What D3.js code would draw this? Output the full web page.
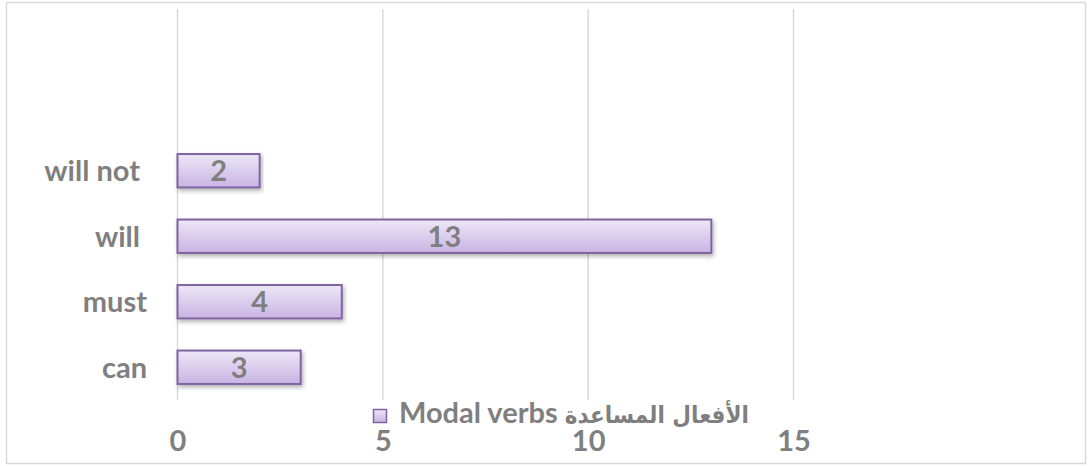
<!DOCTYPE html>
<html>
<head>
<meta charset="utf-8">
<script src="https://cdn.jsdelivr.net/npm/d3@7"></script>
<style>
  body { margin: 0; background: #fff; }
  text { font-family: Lato, "DejaVu Sans", sans-serif; font-weight: bold; fill: #7f7f7f; }
</style>
</head>
<body>
<div id="chart"></div>
<script>
'use strict';

// chart data
var categories = ['will not ', 'will ', 'must', 'can'];
var values = [2, 13, 4, 3];
var xTicks = [0, 5, 10, 15];
var seriesLatin = 'Modal verbs ';
var seriesArabic = 'الأفعال المساعدة';

var width = 1088,
    height = 466;

var svg = d3.select('#chart')
    .append('svg')
    .attr('width', width)
    .attr('height', height);

// outer frame
svg.append('rect')
    .attr('x', 6.5).attr('y', 2.5)
    .attr('width', 1079).attr('height', 461)
    .attr('fill', '#fff')
    .attr('stroke', '#d9d9d9')
    .attr('stroke-width', 1.5);

var defs = svg.append('defs');
var grad = defs.append('linearGradient')
    .attr('id', 'barFill')
    .attr('x1', 0).attr('y1', 0).attr('x2', 0).attr('y2', 1);
grad.append('stop').attr('offset', '0%').attr('stop-color', '#ede7f7');
grad.append('stop').attr('offset', '100%').attr('stop-color', '#c8b4e3');

var shadow = defs.append('filter')
    .attr('id', 'shadow')
    .attr('x', '-5%').attr('y', '-20%')
    .attr('width', '110%').attr('height', '160%');
shadow.append('feDropShadow')
    .attr('dx', 1.5).attr('dy', 2.5)
    .attr('stdDeviation', 2)
    .attr('flood-color', '#000')
    .attr('flood-opacity', 0.3);

var x = d3.scaleLinear()
    .domain([0, 15])
    .range([177.5, 793.5]);

var y = d3.scaleBand()
    .domain(categories)
    .range([138, 400])
    .paddingInner(0.49)
    .paddingOuter(0.245);

// gridlines
svg.append('g')
    .selectAll('line')
    .data(xTicks)
    .enter()
    .append('line')
    .attr('x1', function(d) { return x(d); })
    .attr('x2', function(d) { return x(d); })
    .attr('y1', 9)
    .attr('y2', 400)
    .attr('stroke', '#d9d9d9')
    .attr('stroke-width', 1.5);

// x axis labels
var xAxis = d3.axisBottom(x)
    .tickValues(xTicks)
    .tickSize(0)
    .tickPadding(0);
var xg = svg.append('g')
    .attr('transform', 'translate(0,441)')
    .call(xAxis);
xg.select('.domain').remove();
xg.selectAll('text')
    .attr('dy', '0.36em')
    .style('font-size', '29px')
    .style('fill', '#7f7f7f');

// category labels
var yAxis = d3.axisLeft(y).tickSize(0).tickPadding(0);
var yg = svg.append('g')
    .attr('transform', 'translate(147,0)')
    .call(yAxis);
yg.select('.domain').remove();
yg.selectAll('text')
    .attr('dy', '0.36em')
    .style('font-size', '29px')
    .style('fill', '#7f7f7f')
    .style('white-space', 'pre');

// bars
var bars = svg.append('g')
    .selectAll('g')
    .data(values)
    .enter()
    .append('g');

bars.append('rect')
    .attr('x', x(0))
    .attr('y', function(d, i) { return y(categories[i]); })
    .attr('width', function(d) { return x(d) - x(0); })
    .attr('height', y.bandwidth())
    .attr('fill', 'url(#barFill)')
    .attr('stroke', '#8064a2')
    .attr('stroke-width', 2)
    .attr('filter', 'url(#shadow)');

bars.append('text')
    .attr('x', function(d) { return (x(d) + x(0)) / 2; })
    .attr('y', function(d, i) { return y(categories[i]) + y.bandwidth() / 2; })
    .attr('dy', '0.36em')
    .attr('text-anchor', 'middle')
    .style('font-size', '29px')
    .text(function(d) { return d; });

// legend
var legend = svg.append('g');
legend.append('rect')
    .attr('x', 373.5).attr('y', 409.5)
    .attr('width', 13).attr('height', 13)
    .attr('fill', 'url(#barFill)')
    .attr('stroke', '#8064a2')
    .attr('stroke-width', 1.5);
var lt = legend.append('text')
    .attr('x', 399)
    .attr('y', 417)
    .attr('dy', '0.36em')
    .attr('direction', 'ltr');
lt.append('tspan')
    .style('font-size', '29px')
    .style('white-space', 'pre')
    .text(seriesLatin);
lt.append('tspan')
    .style('font-family', '"DejaVu Sans Condensed", "DejaVu Sans", sans-serif')
    .style('font-size', '24px')
    .text(seriesArabic);
</script>
</body>
</html>
